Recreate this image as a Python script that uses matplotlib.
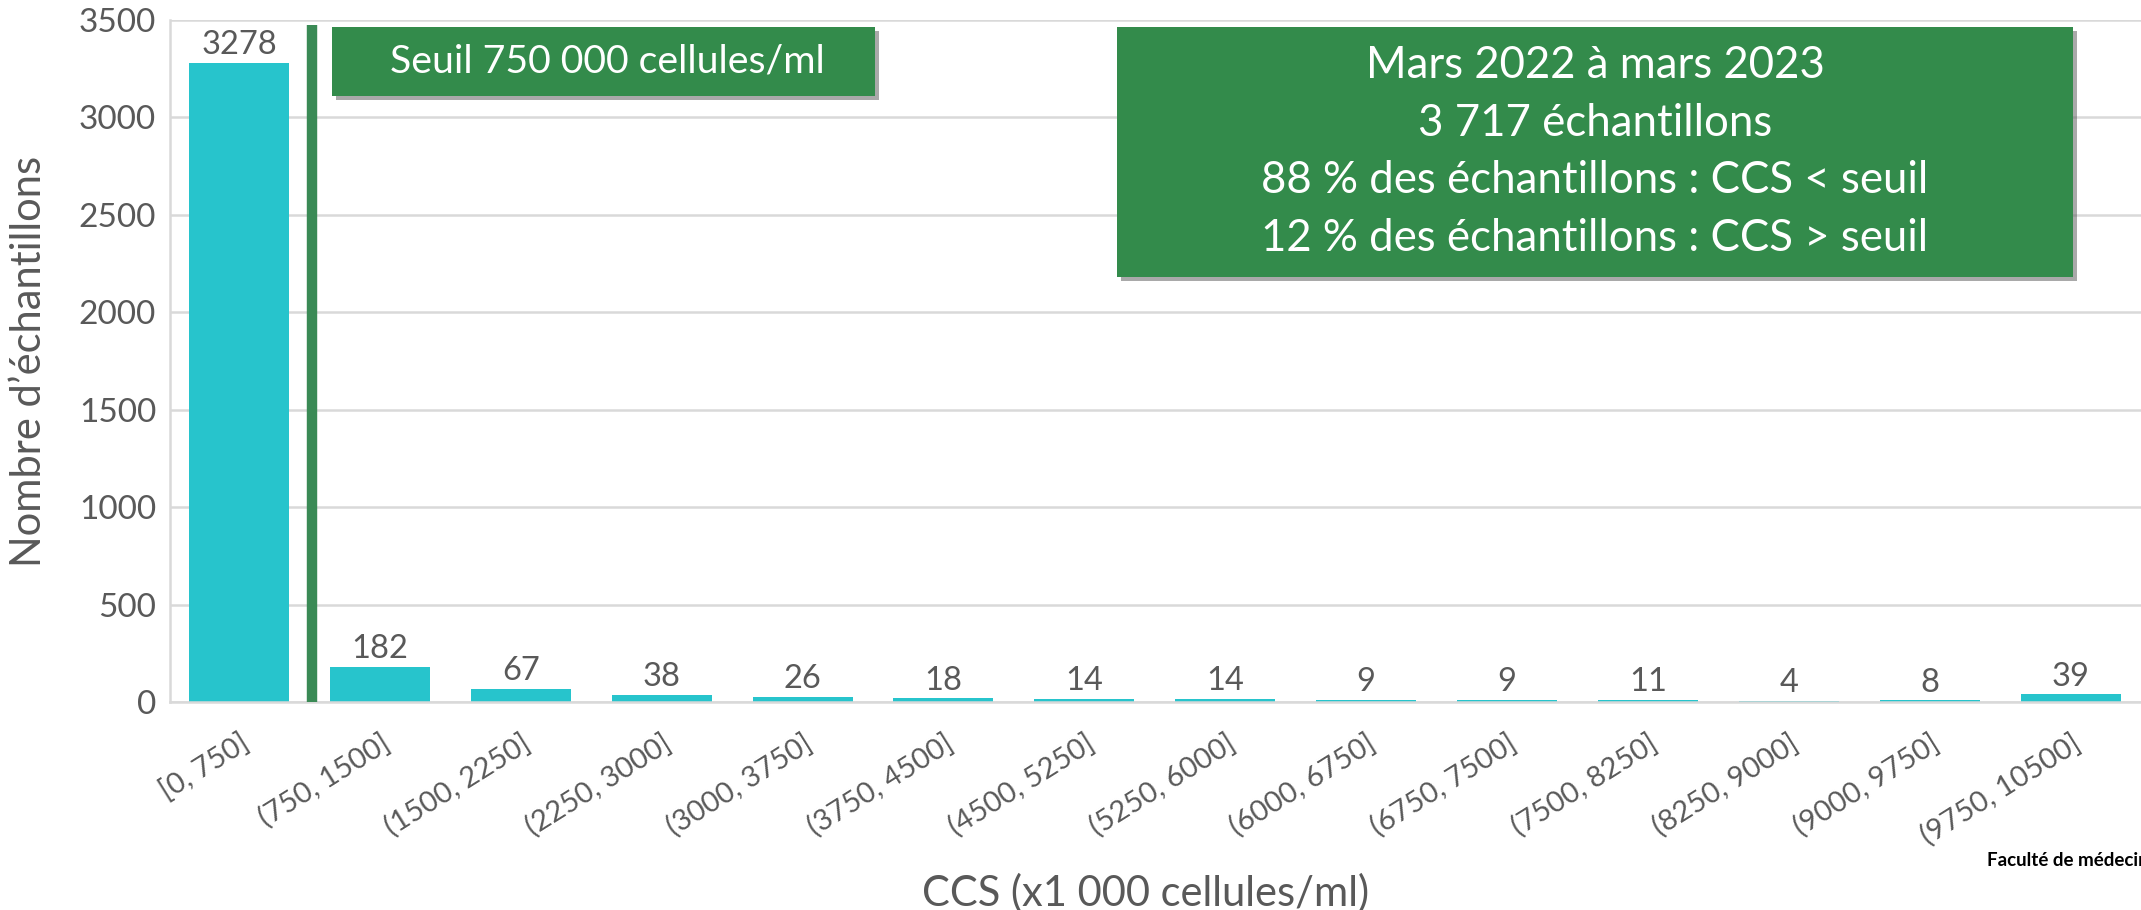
import matplotlib
matplotlib.use("Agg")
import matplotlib.pyplot as plt
import matplotlib.patheffects as pe
from matplotlib.patches import Rectangle

# classes de CCS (x1 000 cellules/ml) et nombre d'échantillons
categories = ["[0, 750]", "(750, 1500]", "(1500, 2250]", "(2250, 3000]",
              "(3000, 3750]", "(3750, 4500]", "(4500, 5250]", "(5250, 6000]",
              "(6000, 6750]", "(6750, 7500]", "(7500, 8250]", "(8250, 9000]",
              "(9000, 9750]", "(9750, 10500]"]
counts = [3278, 182, 67, 38, 26, 18, 14, 14, 9, 9, 11, 4, 8, 39]

seuil_x = 0.52      # position du seuil entre les deux premières classes
seuil_top = 3475
y_ticks = [0, 500, 1000, 1500, 2000, 2500, 3000, 3500]

seuil_label = "Seuil 750 000 cellules/ml"
info_lines = ["Mars 2022 à mars 2023",
              "3 717 échantillons",
              "88 % des échantillons : CCS < seuil",
              "12 % des échantillons : CCS > seuil"]

grey = "#595959"
bar_color = "#27C4CC"
green = "#338B4B"

plt.rcParams["font.family"] = ["Lato", "DejaVu Sans"]

fig = plt.figure(figsize=(21.41, 9.10), dpi=100)
ax = fig.add_axes([170 / 2141, 1 - 702 / 910, 1 - 170 / 2141, 682 / 910])

x = list(range(len(categories)))
bars = ax.bar(x, counts, width=0.71, color=bar_color, zorder=2)
ax.bar_label(bars, labels=[str(c) for c in counts], padding=2,
             fontsize=23.5, color=grey)

ax.plot([seuil_x, seuil_x], [0, seuil_top], color="#3A8A55", lw=7.5,
        solid_capstyle="butt", zorder=3)

ax.set_xlim(-0.49, 13.5)
ax.set_ylim(0, 3500)
ax.set_yticks(y_ticks)
ax.set_yticklabels([str(t) for t in y_ticks], fontsize=24, color=grey)
ax.set_xticks(x)
ax.set_xticklabels(categories, fontsize=21, color=grey, rotation=32,
                   ha="right", va="top", rotation_mode="anchor")
ax.tick_params(axis="both", length=0)
ax.tick_params(axis="x", pad=20)
ax.tick_params(axis="y", pad=10)

ax.grid(axis="y", color="#D9D9D9", lw=1.8, zorder=0)
ax.set_axisbelow(True)
for side in ["top", "right"]:
    ax.spines[side].set_visible(False)
ax.spines["left"].set_color("#D9D9D9")
ax.spines["left"].set_linewidth(1.8)
ax.spines["bottom"].set_color("#D9D9D9")
ax.spines["bottom"].set_linewidth(1.8)

ax.set_ylabel("Nombre d’échantillons", fontsize=30, color=grey)
ax.yaxis.set_label_coords(-0.062, 0.5)
ax.set_xlabel("CCS (x1 000 cellules/ml)", fontsize=30, color=grey, va="center")
ax.xaxis.set_label_coords(0.495, -0.28)

shadow = [pe.withSimplePatchShadow(offset=(3, -3), shadow_rgbFace="#555555",
                                   alpha=0.5)]

# encadré du seuil
b1 = Rectangle((332 / 2141, 1 - 96 / 910), (875 - 332) / 2141, 69 / 910,
               transform=fig.transFigure, facecolor=green, edgecolor="none",
               path_effects=shadow)
fig.patches.append(b1)
fig.text((332 + 875) / 2 / 2141 + 0.002, 1 - 61.5 / 910, seuil_label,
         color="white", fontsize=28.3, ha="center", va="center")

# encadré résumé
b2 = Rectangle((1117 / 2141, 1 - 277 / 910), (2073 - 1117) / 2141, 250 / 910,
               transform=fig.transFigure, facecolor=green, edgecolor="none",
               path_effects=shadow)
fig.patches.append(b2)
fig.text((1117 + 2073) / 2 / 2141, 1 - 152 / 910, "\n".join(info_lines),
         color="white", fontsize=31.5, ha="center", va="center",
         linespacing=1.5)

# signature coupée au bord droit, comme sur l'original
fig.text(1987 / 2141, 1 - 860 / 910, "Faculté de médecine vétérinaire",
         fontsize=13.5, fontweight="bold", color="black", ha="left", va="center")

fig.savefig("out.png", dpi=100)
